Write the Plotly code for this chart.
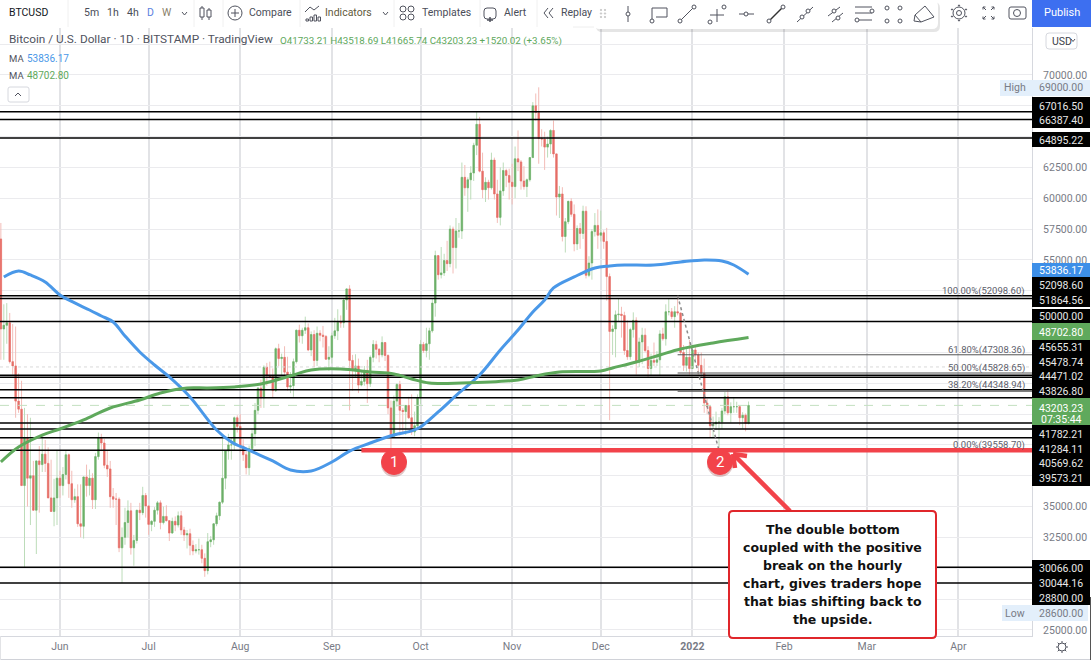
import pandas as pd
import plotly.graph_objects as go

W, H = 1091, 660
FONT = 'Roboto'
GREY_TEXT = '#787b86'
DARK_TEXT = '#4a4d58'
RED = '#f2434a'

# daily bars, 12 May 2021 to 20 Jan 2022
dates = pd.date_range('2021-05-12', '2022-01-20')

opens = [
    56700, 49400, 49700, 49900, 46750, 46400, 43550, 42900, 36700, 40600, 37300, 37500, 34700, 38700, 38400, 39250, 38500, 35700, 34600, 35700,
    37300, 36700, 37600, 39200, 36850, 35550, 35800, 33600, 33400, 37400, 36700, 37300, 35550, 39050, 40550, 40150, 38350, 38050, 35800, 35600, 35600, 31650, 32500, 33700, 34650, 31650, 32250, 34700, 34500, 35900,
    35050, 33550, 33800, 34700, 35300, 33700, 34200, 33850, 32850, 33800, 33500, 34250, 33100, 32700, 32800, 31850, 31400, 31500, 31500, 30800, 29800, 32150, 32300, 33600, 34250, 35350, 37300, 39500, 40000, 40000, 42200,
    41500, 39900, 39200, 38150, 39700, 40900, 42800, 44600, 43800, 46300, 45600, 45550, 44400, 47800, 47000, 47100, 45900, 44700, 44800, 46750, 49300, 48850, 49300, 49500, 47700, 48950, 46850, 49050, 48900, 48800, 46950,
    47100, 48850, 49250, 49950, 49900, 51750, 52650, 46850, 46100, 46400, 44850, 45150, 46050, 44950, 47100, 48150, 47750, 47300, 48300, 47250, 43000, 40700, 43550, 44900, 42800, 42700, 43200, 42200, 41050, 41550,
    43800, 48150, 47650, 48200, 49250, 51500, 55350, 53800, 53950, 54950, 54700, 57500, 56000, 57350, 57350, 61700, 60850, 61500, 62050, 64300, 66000, 62200, 60700, 61300, 60850, 63100, 60350, 58450, 60600, 62250, 61850,
    61300, 60950, 63200, 62950, 61400, 60950, 61500, 63300, 67500, 66950, 64850, 64800, 64150, 64400, 65500, 63600, 60100, 60350, 56900, 58100, 59750, 58700, 56300, 57550, 57150, 58950, 53750, 54750, 57300, 57800,
    57000, 57200, 56500, 53650, 49200, 49400, 50550, 50600, 50500, 47650, 47150, 49350, 50100, 46700, 48350, 48900, 47650, 46200, 46850, 46700, 46900, 49000, 48600, 50800, 50800, 50400, 50800, 50700, 47500, 46450, 47100,
    46200, 47700, 47300, 46450, 45800, 43400, 43100, 41550, 41700, 41850, 41850, 42750, 43900, 42600, 43100, 43100, 43100, 42200, 42400, 41733.21,
]
highs = [
    58000, 51400, 51500, 50700, 49800, 49600, 45800, 45200, 43000, 42500, 42200, 38700, 38200, 39900, 40900, 40400, 39800, 38800, 37250, 39600,
    37900, 38200, 39500, 39300, 37900, 36450, 36800, 36800, 34000, 38400, 38000, 37700, 39350, 41000, 40900, 40500, 39500, 38700, 36500, 36100, 35750, 33300, 34900, 35500, 35300, 32700, 34700, 35300, 36600, 36100,
    35050, 33900, 34950, 35450, 35500, 35000, 35100, 33900, 34100, 34200, 34600, 34650, 33350, 33100, 33200, 32250, 31950, 32400, 31900, 31200, 32850, 32600, 33650, 34500, 35400, 40550, 39550, 40900, 40600, 42300, 42400,
    42500, 40450, 39800, 39950, 41350, 43400, 44700, 45300, 46450, 46650, 46750, 46200, 47900, 48200, 47400, 48000, 47150, 45900, 47000, 49350, 49750, 49500, 50400, 49850, 49200, 49300, 49600, 49300, 49650, 48900, 48000,
    49100, 50300, 51000, 50500, 51900, 52700, 52950, 47300, 47350, 47000, 45950, 46400, 46900, 47250, 48500, 48450, 47850, 48800, 48350, 47350, 43600, 44000, 45000, 45200, 43000, 43000, 43900, 44100, 42700, 44100,
    48500, 48350, 49500, 49500, 51900, 55750, 55350, 56050, 55500, 56550, 57800, 57700, 58400, 58000, 62900, 62700, 61700, 62600, 64500, 67016, 66600, 63700, 61700, 61500, 63700, 63300, 61500, 62500, 62900, 62400, 62400,
    62800, 64200, 65500, 63100, 62600, 61600, 63300, 67800, 68500, 69000, 65600, 65400, 65000, 65600, 66300, 63600, 61000, 60900, 58400, 59800, 60000, 59500, 57800, 58000, 59400, 59350, 55300, 57500, 58800, 59100,
    59000, 57400, 57600, 53900, 49700, 50900, 51900, 51200, 50800, 50100, 49500, 50750, 50350, 48700, 49500, 49450, 48000, 47400, 48300, 47600, 49300, 49500, 51400, 51850, 51100, 51250, 52098, 50700, 48100, 47900, 48500,
    47950, 47950, 47500, 47500, 47000, 43750, 43150, 42300, 42700, 42250, 43000, 44300, 44450, 43450, 43800, 43500, 43200, 42650, 42550, 43518.69,
]
lows = [
    46900, 46900, 48200, 46600, 45700, 42200, 42600, 42250, 30066, 35000, 33500, 35300, 31150, 34500, 37800, 37800, 37200, 34700, 33400, 33500,
    35700, 35900, 37200, 35700, 34900, 35300, 33350, 32500, 32400, 35800, 35900, 34800, 34800, 38800, 39500, 38100, 37400, 34900, 34900, 33500, 31300, 28800, 31900, 32500, 31100, 30200, 32000, 33900, 34300, 34100,
    32700, 33000, 33350, 34350, 33150, 33550, 33800, 32200, 32800, 33000, 33300, 32700, 32200, 31600, 31050, 31050, 31200, 31100, 30400, 29300, 29500, 31700, 31900, 33400, 33900, 35200, 36400, 38800, 38800, 39500, 41000,
    39400, 38700, 37600, 37550, 39500, 39900, 42500, 43000, 43000, 44800, 45400, 43800, 44300, 46400, 45600, 45600, 44400, 44200, 43900, 46600, 48300, 48200, 49000, 47600, 47200, 46300, 46400, 48400, 47900, 46900, 46000,
    46600, 48600, 48500, 49500, 49500, 50950, 42800, 44400, 45500, 44200, 44750, 44800, 43400, 44700, 46700, 47000, 46700, 47100, 46800, 42500, 39600, 40600, 43100, 40750, 40900, 40800, 42100, 40800, 40700, 41400,
    43300, 47450, 47100, 46900, 49100, 50400, 53400, 53500, 53700, 54100, 54400, 53900, 54300, 56800, 56700, 60200, 58900, 59900, 61400, 63500, 62100, 60000, 59700, 59900, 60700, 59900, 58000, 57800, 60200, 60900, 59900,
    59500, 60000, 62200, 60700, 60700, 60100, 61350, 63300, 66300, 62800, 64200, 62300, 63300, 63600, 63300, 58600, 58400, 56500, 55600, 57900, 58500, 55700, 55800, 55900, 56700, 53500, 53600, 53400, 56900, 55900,
    56500, 55900, 51700, 42000, 47300, 47100, 50050, 48700, 47300, 46900, 46900, 48700, 45700, 46300, 46550, 47500, 45450, 45600, 46400, 46400, 45600, 48450, 48050, 50500, 50200, 49500, 50500, 47300, 46000, 45950, 45700,
    46150, 46650, 45700, 45500, 42600, 42500, 40600, 40550, 41200, 39558.7, 41300, 42500, 42400, 41800, 42600, 42600, 41600, 41300, 41100, 41665.74,
]
closes = [
    49400, 49700, 49900, 46750, 46400, 43550, 42900, 36700, 40600, 37300, 37500, 34700, 38700, 38400, 39250, 38500, 35700, 34600, 35700, 37300,
    36700, 37600, 39200, 36850, 35550, 35800, 33600, 33400, 37400, 36700, 37300, 35550, 39050, 40550, 40150, 38350, 38050, 35800, 35600, 35600, 31650, 32500, 33700, 34650, 31650, 32250, 34700, 34500, 35900, 35050,
    33550, 33800, 34700, 35300, 33700, 34200, 33850, 32850, 33800, 33500, 34250, 33100, 32700, 32800, 31850, 31400, 31500, 31500, 30800, 29800, 32150, 32300, 33600, 34250, 35350, 37300, 39500, 40000, 40000, 42200, 41500,
    39900, 39200, 38150, 39700, 40900, 42800, 44600, 43800, 46300, 45600, 45550, 44400, 47800, 47000, 47100, 45900, 44700, 44800, 46750, 49300, 48850, 49300, 49500, 47700, 48950, 46850, 49050, 48900, 48800, 46950, 47100,
    48850, 49250, 49950, 49900, 51750, 52650, 46850, 46100, 46400, 44850, 45150, 46050, 44950, 47100, 48150, 47750, 47300, 48300, 47250, 43000, 40700, 43550, 44900, 42800, 42700, 43200, 42200, 41050, 41550, 43800,
    48150, 47650, 48200, 49250, 51500, 55350, 53800, 53950, 54950, 54700, 57500, 56000, 57350, 57350, 61700, 60850, 61500, 62050, 64300, 66000, 62200, 60700, 61300, 60850, 63100, 60350, 58450, 60600, 62250, 61850, 61300,
    60950, 63200, 62950, 61400, 60950, 61500, 63300, 67500, 66950, 64850, 64800, 64150, 64400, 65500, 63600, 60100, 60350, 56900, 58100, 59750, 58700, 56300, 57550, 57150, 58950, 53750, 54750, 57300, 57800, 57000,
    57200, 56500, 53650, 49200, 49400, 50550, 50600, 50500, 47650, 47150, 49350, 50100, 46700, 48350, 48900, 47650, 46200, 46850, 46700, 46900, 49000, 48600, 50800, 50800, 50400, 50800, 50700, 47500, 46450, 47100, 46200,
    47700, 47300, 46450, 45800, 43400, 43100, 41550, 41700, 41850, 41850, 42750, 43900, 42600, 43100, 43100, 43100, 42200, 42400, 41733, 43203.23,
]

ma_slow_dates = ['2021-05-13', '2021-05-18', '2021-05-22', '2021-05-27', '2021-06-01', '2021-06-06', '2021-06-11', '2021-06-15', '2021-06-19', '2021-06-23',
                 '2021-06-28', '2021-07-03', '2021-07-08', '2021-07-15', '2021-07-24', '2021-07-29', '2021-08-03', '2021-08-06', '2021-08-12', '2021-08-18',
                 '2021-08-25', '2021-09-01', '2021-09-07', '2021-09-14', '2021-09-22', '2021-09-28', '2021-10-01', '2021-10-07', '2021-10-14', '2021-10-21',
                 '2021-10-28', '2021-11-03', '2021-11-08', '2021-11-12', '2021-11-15', '2021-11-22', '2021-11-29', '2021-12-04', '2021-12-09', '2021-12-19',
                 '2021-12-28', '2022-01-05', '2022-01-11', '2022-01-15', '2022-01-20']
ma_slow = [53617, 54104, 53780, 53212, 52158, 51510, 50940, 50455, 49970, 48833,
           47535, 46480, 45510, 43885, 41210, 40240, 39670, 39345, 38700, 37965,
           37885, 38615, 39500, 40155, 40800, 41130, 41450, 42670, 44210, 45670,
           47700, 49320, 50780, 51750, 52725, 53620, 54350, 54510, 54590, 54590,
           54835, 55000, 54915, 54590, 53836.17]

ma_fast_dates = ['2021-05-12', '2021-05-18', '2021-05-26', '2021-06-01', '2021-06-09', '2021-06-18', '2021-06-28', '2021-07-05', '2021-07-14', '2021-07-21',
                 '2021-07-30', '2021-08-08', '2021-08-19', '2021-08-25', '2021-09-04', '2021-09-14', '2021-09-22', '2021-09-28', '2021-10-04', '2021-10-15',
                 '2021-11-03', '2021-11-09', '2021-11-17', '2021-12-01', '2021-12-05', '2021-12-13', '2021-12-21', '2021-12-28', '2022-01-08', '2022-01-20']
ma_fast = [38615, 39830, 40800, 41290, 42020, 42990, 43640, 44210, 44615, 44615,
           44695, 44940, 45670, 46075, 46155, 45910, 45750, 45345, 45020, 45020,
           45265, 45590, 45910, 45995, 46240, 46725, 47290, 47780, 48265, 48702.8]

levels = [67016.5, 66387.4, 64895.22, 52098.6, 51864.56, 50000, 45655.31, 45478.74, 44471.02,
          43826.8, 41782.21, 41284.11, 40569.62, 39573.21, 30066, 28800]
fib_levels = [47308.36, 45828.65, 44348.94]
fib_dates = ['2021-12-27', '2022-01-10']
fib_prices = [52098.6, 39558.7]
fib_labels = ['100.00%(52098.60)', '61.80%(47308.36)', '50.00%(45828.65)', '38.20%(44348.94)', '0.00%(39558.70)']
faint_level = 46320
last_price = 43203.23
support_price = 39573.21
support_start = '2021-09-11'

month_ticks = ['2021-06-01', '2021-07-01', '2021-08-01', '2021-09-01', '2021-10-01', '2021-11-01',
               '2021-12-01', '2022-01-01', '2022-02-01', '2022-03-01', '2022-04-01']
month_labels = ['Jun', 'Jul', 'Aug', 'Sep', 'Oct', 'Nov', 'Dec', '<b>2022</b>', 'Feb', 'Mar', 'Apr']
price_ticks = list(range(25000, 75000, 2500))
# the other grid prices sit behind the price tags, so they carry no text
shown_prices = [25000, 32500, 35000, 55000, 57500, 60000, 62500, 70000]

black_tags = ['67016.50', '66387.40', '64895.22', '52098.60', '51864.56', '50000.00', '45655.31', '45478.74',
              '44471.02', '43826.80', '41782.21', '41284.11', '40569.62', '39573.21', '30066.00', '30044.16', '28800.00']
black_tag_rows = [106, 120, 140, 285, 300, 316, 347, 362, 376, 391, 434, 449, 463, 478, 568, 583, 598]
note_lines = ['The double bottom', 'coupled with the positive', 'break on the hourly',
              'chart, gives traders hope', 'that bias shifting back to', 'the upside.']

x_start, x_end = '2021-05-11 17:00', '2022-04-25 22:00'

shapes = []
notes = []


def px(x):
    return x / W


def py(y):
    return 1 - y / H


def line(x0, y0, x1, y1, color='#50535e', width=1, dash='solid'):
    shapes.append(dict(type='line', xref='paper', yref='paper', x0=px(x0), x1=px(x1), y0=py(y0), y1=py(y1),
                       line=dict(color=color, width=width, dash=dash), layer='above'))


def box(x0, y0, x1, y1, fill='rgba(0,0,0,0)', color='rgba(0,0,0,0)', width=1):
    shapes.append(dict(type='rect', xref='paper', yref='paper', x0=px(x0), x1=px(x1), y0=py(y0), y1=py(y1),
                       fillcolor=fill, line=dict(color=color, width=width), layer='above'))


def circle(cx, cy, r, fill='rgba(0,0,0,0)', color='#50535e', width=1):
    shapes.append(dict(type='circle', xref='paper', yref='paper', x0=px(cx - r), x1=px(cx + r), y0=py(cy - r), y1=py(cy + r),
                       fillcolor=fill, line=dict(color=color, width=width), layer='above'))


def round_box(x0, y0, x1, y1, r, fill, color='rgba(0,0,0,0)', width=1):
    path = (f'M {px(x0 + r)} {py(y0)} L {px(x1 - r)} {py(y0)} Q {px(x1)} {py(y0)} {px(x1)} {py(y0 + r)} '
            f'L {px(x1)} {py(y1 - r)} Q {px(x1)} {py(y1)} {px(x1 - r)} {py(y1)} '
            f'L {px(x0 + r)} {py(y1)} Q {px(x0)} {py(y1)} {px(x0)} {py(y1 - r)} '
            f'L {px(x0)} {py(y0 + r)} Q {px(x0)} {py(y0)} {px(x0 + r)} {py(y0)} Z')
    shapes.append(dict(type='path', xref='paper', yref='paper', path=path, fillcolor=fill,
                       line=dict(color=color, width=width), layer='above'))


def label(x, y, text, size=12, color=DARK_TEXT, anchor='left', family=FONT):
    notes.append(dict(xref='paper', yref='paper', x=px(x), y=py(y), text=text, showarrow=False, xanchor=anchor,
                      yanchor='middle', borderpad=0, font=dict(family=family, size=size, color=color)))


fig = go.Figure()

# wicks first, then bodies on top so the wick can stay lighter than the body
fig.add_trace(go.Candlestick(x=dates, open=opens, high=highs, low=lows, close=closes,
                             increasing=dict(line=dict(color='#bcdcb9', width=1), fillcolor='#bcdcb9'),
                             decreasing=dict(line=dict(color='#f3bcb7', width=1), fillcolor='#f3bcb7')))
fig.add_trace(go.Candlestick(x=dates, open=opens, close=closes,
                             high=[max(o, c) for o, c in zip(opens, closes)],
                             low=[min(o, c) for o, c in zip(opens, closes)],
                             increasing=dict(line=dict(color='#6cb069', width=0.5), fillcolor='#6cb069'),
                             decreasing=dict(line=dict(color='#e66e68', width=0.5), fillcolor='#e66e68')))

fig.add_trace(go.Scatter(x=[x_start, x_end], y=[faint_level, faint_level], mode='lines',
                         line=dict(color='#d9d9d9', width=1, dash='dot')))
fig.add_trace(go.Scatter(x=[x_start, x_end], y=[last_price, last_price], mode='lines',
                         line=dict(color='#c3e0c0', width=1, dash='dash')))
for level in levels:
    fig.add_trace(go.Scatter(x=[x_start, x_end], y=[level, level], mode='lines', line=dict(color='black', width=1.5)))
for level in fib_levels:
    fig.add_trace(go.Scatter(x=[fib_dates[0], x_end], y=[level, level], mode='lines', line=dict(color='#555555', width=1)))
fig.add_trace(go.Scatter(x=fib_dates, y=fib_prices, mode='lines', line=dict(color='#8a8a8a', width=1.5, dash='dot')))

fig.add_trace(go.Scatter(x=ma_slow_dates, y=ma_slow, mode='lines', line=dict(color='#4a98e8', width=3, shape='spline')))
fig.add_trace(go.Scatter(x=ma_fast_dates, y=ma_fast, mode='lines', line=dict(color='#5fa95c', width=3, shape='spline')))
fig.add_trace(go.Scatter(x=[support_start, x_end], y=[support_price, support_price], mode='lines',
                         line=dict(color=RED, width=4.5)))

# header strip and publish button
box(0, 0, W, 27.5, fill='white')
for sep in [68, 194, 223, 300, 394, 480, 537]:
    line(sep, 0, sep, 27, color='#f0f0f0')
label(8, 13, 'BTCUSD', 10.5, '#131722')
for x, text, color in [(83, '5m', DARK_TEXT), (106, '1h', DARK_TEXT), (126, '4h', DARK_TEXT), (146, 'D', '#5b7fe0'), (161, 'W', '#8a7f6a')]:
    label(x, 13, text, 10.5, color)
line(182, 12, 184.5, 15)
line(184.5, 15, 187, 12)
# candle style icon
line(202, 6, 202, 20)
box(200, 8, 204, 17, fill='white', color='#50535e')
line(209, 8, 209, 20)
box(207, 10, 211, 17, fill='white', color='#50535e')
# compare
circle(235, 13, 7)
line(231, 13, 239, 13)
line(235, 9, 235, 17)
label(248, 13, 'Compare', 10.5)
# indicators
for x, y in [(306, 19), (310, 17), (314, 15), (318, 17)]:
    box(x, y, x + 2.5, 21, fill='white', color='#50535e')
line(305, 12, 310, 7, color='#50535e')
line(310, 7, 314, 10, color='#50535e')
line(314, 10, 319, 6, color='#50535e')
label(324, 13, 'Indicators', 10.5, '#5f5a3c')
line(383, 12, 385.5, 15)
line(385.5, 15, 388, 12)
# templates
for x, y in [(403, 9), (411, 9), (403, 17), (411, 17)]:
    circle(x, y, 3)
label(421, 13, 'Templates', 10.5)
# alert
round_box(484, 8, 496, 19, 3, 'white', '#50535e')
line(490, 17, 490, 22, width=1.5)
line(487, 20, 493, 20, width=1.5)
label(503, 13, 'Alert', 10.5)
# replay arrows
for x in [544, 549]:
    line(x + 4, 8, x, 13)
    line(x, 13, x + 4, 18)
label(560, 13, 'Replay', 10.5)
line(573, 27, 594, 27, color='#eeeeee')

label(8, 39, 'Bitcoin / U.S. Dollar · 1D · BITSTAMP · TradingView', 11.8, '#50535e')
label(279, 41, 'O41733.21 H43518.69 L41665.74 C43203.23 +1520.02 (+3.65%)', 9.8, '#5ea85c')
label(8, 58, 'MA', 9.5, '#50535e')
label(26, 58, '53836.17', 10, '#4a98e8')
label(8, 76, 'MA', 9.5, '#50535e')
label(26, 76, '48702.80', 10, '#5fa95c')
round_box(8, 87, 29, 102, 2, 'white', '#d6d8de')
line(15, 96, 18, 93)
line(18, 93, 21, 96)

# floating drawing toolbar
round_box(596, 2, 940, 32, 6, 'rgba(0,0,0,0.10)')
round_box(594, 0, 938, 29, 6, 'white')
for x in [601, 605]:
    for y in [10, 13.5, 17]:
        circle(x, y, 0.7, fill='#c8c8c8', color='#c8c8c8')
# vertical line tool
line(628, 6, 628, 22)
circle(628, 14, 2, fill='white')
# callout tool
line(652, 8, 667, 8)
line(667, 8, 667, 17)
line(667, 17, 656, 17)
line(652, 8, 652, 21)
circle(652, 21, 2, fill='white')
# trend line
line(680, 21, 694, 7)
circle(680, 21, 2, fill='white')
circle(694, 7, 2, fill='white')
# position box
box(710, 9, 724, 22, fill='white')
line(717, 9, 717, 22)
line(710, 15, 724, 15)
circle(710, 22, 2, fill='white')
circle(724, 7, 2, fill='white')
# horizontal line
line(739, 14, 754, 14)
circle(746, 14, 2, fill='white')
# arrow
line(769, 21, 783, 7, color='#333333', width=1.5)
circle(769, 21, 2, fill='white')
circle(783, 7, 2, fill='white')
# dotted ray
line(797, 22, 813, 7)
circle(802, 17, 2, fill='white')
circle(808, 11, 2, fill='white')
# parallel
line(828, 16, 840, 7)
line(832, 22, 843, 13)
circle(834, 11, 2, fill='white')
circle(838, 18, 2, fill='white')
# fib
line(855, 7, 872, 7)
line(855, 13, 872, 13)
line(855, 20, 872, 20)
circle(872, 11, 2, fill='white')
circle(857, 20, 2, fill='white')
# rectangle
box(887, 8, 900, 21)
for x, y in [(887, 8), (900, 8), (887, 21), (900, 21)]:
    circle(x, y, 2, fill='white')
# brush
line(915, 15, 925, 6)
line(915, 15, 921, 22)
line(921, 22, 934, 17)
line(925, 6, 934, 17)
line(915, 15, 914, 21)
line(914, 21, 921, 22)

# gear, fullscreen, camera
circle(959, 13, 6)
circle(959, 13, 2.5)
for dx, dy in [(0, -7.5), (0, 7.5), (-7, -3.5), (7, -3.5), (-7, 3.5), (7, 3.5)]:
    circle(959 + dx, 13 + dy, 0.6, fill='#50535e')
for x, y, sx, sy in [(983, 7, 1, 1), (994, 7, -1, 1), (983, 19, 1, -1), (994, 19, -1, -1)]:
    line(x, y, x + 3 * sx, y + 3 * sy)
    line(x, y, x + 2.5 * sx, y)
    line(x, y, x, y + 2.5 * sy)
round_box(1009, 7, 1026, 19, 2, 'white', '#50535e')
circle(1017, 13, 3.5)
box(1032, 0, W, 27, fill='#3d6ff0')
label(1061.5, 13, 'Publish', 11, 'white', 'center')
box(1032, 27, W, 28, fill='white')
round_box(1046, 33, 1077, 49, 3, 'white', '#d6d8de')
label(1051, 41, 'USD', 10.5, '#3c3f4a')
line(1071, 39, 1073, 41.5)
line(1073, 41.5, 1075, 39)

# price tags on the right axis
box(1000, 80, 1090, 96, fill='#e3effb')
label(1015, 88, 'High', 10.5, GREY_TEXT, 'center')
label(1061, 88, '69000.00', 10.5, GREY_TEXT, 'center')
box(1002, 605, 1088, 621, fill='#e3effb')
label(1015, 613, 'Low', 10.5, GREY_TEXT, 'center')
label(1061, 613, '28600.00', 10.5, GREY_TEXT, 'center')
for top, bottom in [(97, 128), (132, 147), (277, 307), (309, 323), (340, 398), (425, 486), (560, 605)]:
    box(1032, top, 1090, bottom, fill='black')
box(1032, 263, 1090, 277, fill='#3d8fe8')
box(1032, 323, 1090, 340, fill='#5fa95c')
box(1032, 398, 1090, 425, fill='#5fa95c')
for text, row in zip(black_tags, black_tag_rows):
    label(1061, row, text, 10.5, '#e8e8e8', 'center')
label(1061, 270, '53836.17', 10.5, 'white', 'center')
label(1061, 332, '48702.80', 10.5, 'white', 'center')
label(1061, 408, '43203.23', 10.5, 'white', 'center')
label(1061, 419, '07:35:44', 10.5, 'white', 'center')

# fib captions
for text, row in zip(fib_labels, [291, 350, 368, 385, 445]):
    label(1026, row, text, 9.5, '#5d606b', 'right')

# circled numbers
for cx, text in [(394, '1'), (720, '2')]:
    circle(cx, 464, 13, fill='rgba(120,0,0,0.22)', color='rgba(0,0,0,0)')
    circle(cx, 462, 12.5, fill=RED, color=RED)
    label(cx, 462, text, 15, 'white', 'center')

# arrow into the callout
line(790, 511, 734, 455, color=RED, width=4.5)
line(733, 454, 747, 456, color=RED, width=4.5)
line(733, 454, 735, 468, color=RED, width=4.5)

round_box(729, 511, 936, 638, 4, 'white', '#e0262b', 2)
for text, row in zip(note_lines, [529, 547, 565, 583, 601, 619]):
    label(832.5, row, f'<b>{text}</b>', 12.5, '#111111', 'center', 'DejaVu Sans')

# time axis gear
circle(1062, 647, 4)
for dx, dy in [(0, -6), (0, 6), (-6, 0), (6, 0), (-4.3, -4.3), (4.3, -4.3), (-4.3, 4.3), (4.3, 4.3)]:
    line(1062 + dx * 0.7, 647 + dy * 0.7, 1062 + dx, 647 + dy)

# window edges
line(0, 659.5, W, 659.5, color='#d0d2d8')
line(1090.5, 597, 1090.5, 660, color='#555555')
line(0.5, 636, 0.5, 660, color='#e2e3e6')

fig.update_layout(
    width=W,
    height=H,
    margin=dict(l=0, r=0, t=0, b=0),
    paper_bgcolor='white',
    plot_bgcolor='white',
    showlegend=False,
    hovermode=False,
    dragmode=False,
    shapes=shapes,
    annotations=notes,
    font=dict(family=FONT, size=11, color=GREY_TEXT),
)
fig.update_xaxes(
    domain=[0, 1032 / W],
    range=[x_start, x_end],
    rangeslider_visible=False,
    tickvals=month_ticks,
    ticktext=month_labels,
    ticks='',
    tickfont=dict(family=FONT, size=10.5, color=GREY_TEXT),
    showgrid=True,
    gridcolor='#e2e3e6',
    gridwidth=1.5,
    showline=True,
    linecolor='#d6d8de',
    zeroline=False,
)
fig.update_yaxes(
    domain=[1 - 636 / H, 1 - 28 / H],
    range=[24500, 73810],
    side='right',
    tickvals=price_ticks,
    ticktext=[f'{p:.2f}' if p in shown_prices else '' for p in price_ticks],
    ticks='',
    ticklabelstandoff=8,
    tickfont=dict(family=FONT, size=10.5, color=GREY_TEXT),
    showgrid=True,
    gridcolor='#ebebee',
    gridwidth=1,
    showline=True,
    linecolor='#d6d8de',
    zeroline=False,
)

fig.write_html('out.html', config=dict(displayModeBar=False), post_script="document.body.style.margin='0';")
